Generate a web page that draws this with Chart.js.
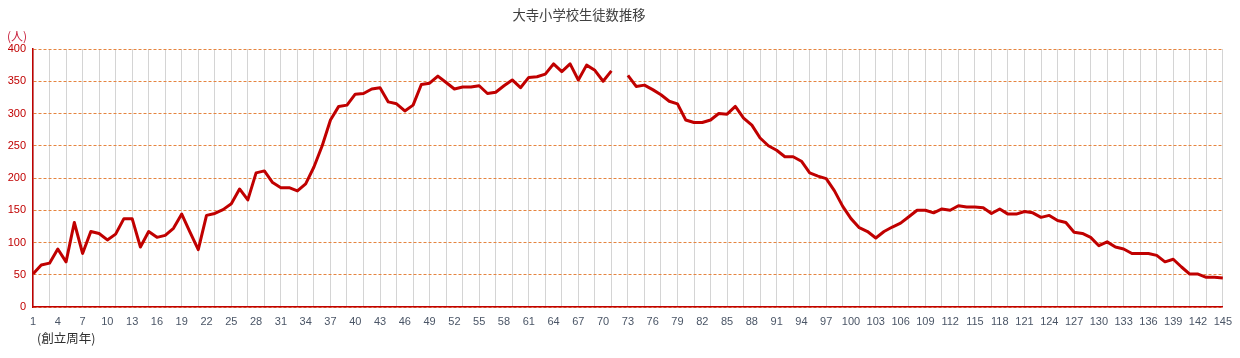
<!DOCTYPE html>
<html>
<head>
<meta charset="utf-8">
<script src="https://cdn.jsdelivr.net/npm/chart.js@4/dist/chart.umd.min.js"></script>
<style>
  html, body { margin: 0; padding: 0; background: #ffffff; }
  #wrap { width: 1240px; height: 358px; position: relative; }
</style>
</head>
<body>
<div id="wrap"><canvas id="c" width="1240" height="358"></canvas></div>
<script>
const chartTitle = '大寺小学校生徒数推移';
const yUnitLabel = '(人)';
const xUnitLabel = '(創立周年)';

const years = [
  1,2,3,4,5,6,7,8,9,10,11,12,13,14,15,16,17,18,19,20,
  21,22,23,24,25,26,27,28,29,30,31,32,33,34,35,36,37,38,39,40,
  41,42,43,44,45,46,47,48,49,50,51,52,53,54,55,56,57,58,59,60,
  61,62,63,64,65,66,67,68,69,70,71,72,73,74,75,76,77,78,79,80,
  81,82,83,84,85,86,87,88,89,90,91,92,93,94,95,96,97,98,99,100,
  101,102,103,104,105,106,107,108,109,110,111,112,113,114,115,116,117,118,119,120,
  121,122,123,124,125,126,127,128,129,130,131,132,133,134,135,136,137,138,139,140,
  141,142,143,144,145
];

// Students per year (1-20)
const students01to20 = [51, 65, 68, 90, 70, 131, 83, 117, 114, 104, 113, 137, 137, 93, 117, 108, 111, 122, 144, 116];
// (21-40)
const students21to40 = [89, 142, 145, 151, 160, 183, 166, 208, 211, 193, 185, 185, 180, 191, 217, 250, 290, 311, 313, 330];
// (41-60)
const students41to60 = [331, 338, 340, 318, 315, 304, 313, 345, 347, 358, 348, 338, 341, 341, 343, 331, 333, 343, 352, 340];
// (61-80)  year 72: no data
const students61to80 = [356, 357, 361, 377, 365, 377, 352, 375, 367, 350, 366, null, 359, 342, 344, 337, 329, 319, 315, 290];
// (81-100)
const students81to100 = [286, 286, 290, 300, 299, 311, 293, 282, 262, 250, 243, 233, 233, 226, 208, 203, 199, 180, 156, 137];
// (101-120)
const students101to120 = [123, 117, 107, 117, 124, 130, 140, 150, 150, 146, 152, 150, 157, 155, 155, 154, 145, 152, 144, 144];
// (121-145)
const students121to145 = [148, 146, 139, 142, 134, 131, 116, 114, 108, 95, 101, 93, 90, 83, 83, 83, 80, 70, 74, 62, 51, 51, 46, 46, 45];

const students = [].concat(students01to20, students21to40, students41to60, students61to80,
  students81to100, students101to120, students121to145);

const yTickMin = 0, yTickMax = 400, yTickStep = 50;
const xLabelEvery = 3;   // show every 3rd year label
const xGridEvery = 2;    // vertical grid line every 2nd year

const textPlugin = {
  id: 'texts',
  afterDraw(chart) {
    const ctx = chart.ctx;
    ctx.save();
    ctx.textBaseline = 'middle';
    ctx.fillStyle = '#404040';
    ctx.font = '13.3px "Noto Sans CJK JP"';
    ctx.textAlign = 'center';
    ctx.fillText(chartTitle, 579, 15);
    ctx.textAlign = 'left';
    ctx.fillStyle = '#c8203c';
    ctx.font = '12px "Noto Sans CJK JP"';
    ctx.fillText(yUnitLabel, 7, 36);
    ctx.fillStyle = '#303030';
    ctx.font = '12.5px "Noto Sans CJK JP"';
    ctx.fillText(xUnitLabel, 37, 338);
    ctx.restore();
  }
};

new Chart(document.getElementById('c'), {
  type: 'line',
  data: {
    labels: years.map(String),
    datasets: [{
      data: students,
      borderColor: '#c00000',
      backgroundColor: '#c00000',
      borderWidth: 3,
      pointRadius: 0,
      pointHoverRadius: 0,
      tension: 0,
      spanGaps: false,
      borderJoinStyle: 'round',
      borderCapStyle: 'butt'
    }]
  },
  options: {
    responsive: false,
    animation: false,
    devicePixelRatio: 1,
    layout: { padding: { left: 0, right: 14, top: 49, bottom: 0 } },
    plugins: {
      legend: { display: false },
      title: { display: false },
      tooltip: { enabled: false }
    },
    scales: {
      x: {
        type: 'category',
        offset: false,
        afterFit(scale) { scale.height = 51; },
        grid: {
          color: (c) => (c.index % xGridEvery === 0 ? '#d4d4d4' : 'rgba(0,0,0,0)'),
          lineWidth: 1,
          drawTicks: false
        },
        border: { display: true, color: '#c00000', width: 1.5 },
        ticks: {
          autoSkip: false,
          maxRotation: 0,
          minRotation: 0,
          padding: 8,
          color: '#4a5566',
          font: { family: '"Liberation Sans", Arial, sans-serif', size: 11 },
          callback: (v, i) => (i % xLabelEvery === 0 ? String(years[i]) : '')
        }
      },
      y: {
        min: yTickMin,
        max: yTickMax,
        afterFit(scale) { scale.width = 33; },
        grid: { color: '#e5843f', lineWidth: 1, drawTicks: false },
        border: { display: true, color: '#c00000', width: 1.5, dash: [3, 2] },
        ticks: {
          stepSize: yTickStep,
          padding: 7,
          color: '#c00000',
          font: { family: '"Liberation Sans", Arial, sans-serif', size: 11 }
        }
      }
    }
  },
  plugins: [textPlugin]
});
</script>
</body>
</html>
